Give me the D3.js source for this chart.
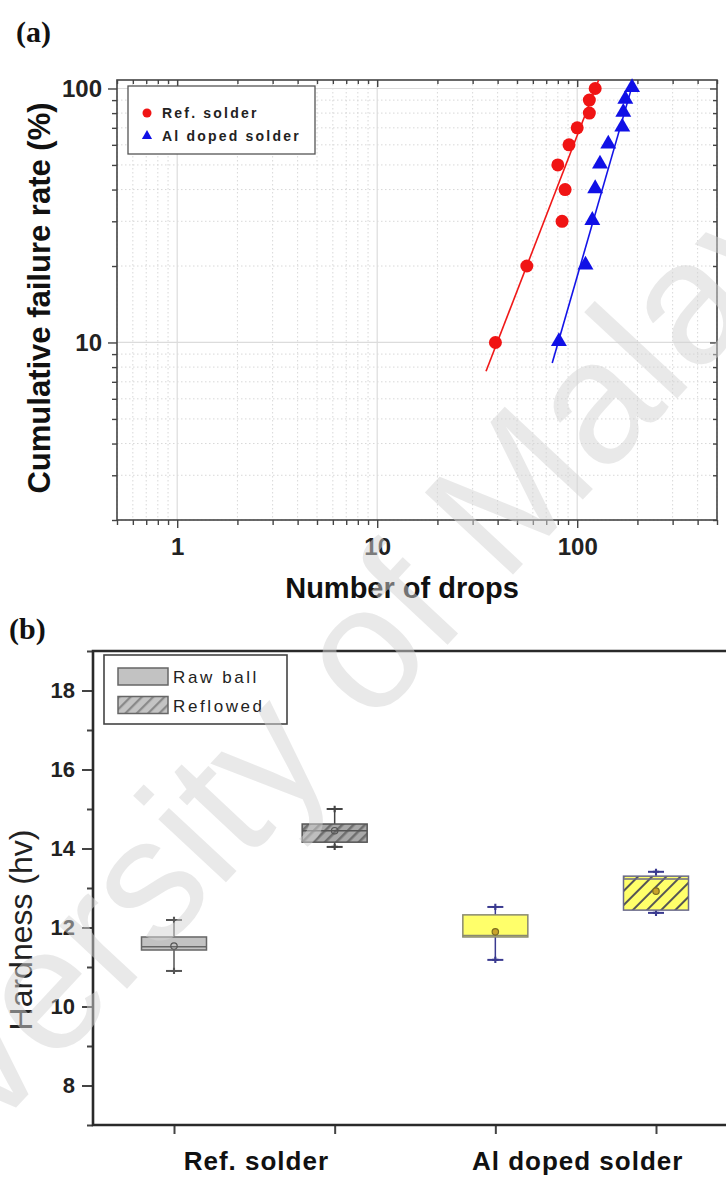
<!DOCTYPE html>
<html><head><meta charset="utf-8">
<script src="https://cdn.jsdelivr.net/npm/d3@7"></script>
<style>body{margin:0;background:#fff} svg{display:block}</style>
</head><body>
<svg id="c" width="726" height="1183"></svg>
<script>
// ---------- data: panel (a) ----------
const failureRate = [10, 20, 30, 40, 50, 60, 70, 80, 90, 100];
const refDrops = [39, 56, 84, 87, 80, 91, 100, 115, 115, 123];
const alDrops = [81, 110, 119, 123, 130, 143, 168, 170, 174, 188];
const refFitDrops = [35, 128];
const refFitRate = [7.7, 108];
const alFitDrops = [75, 190];
const alFitRate = [8.3, 105];
const seriesNames = ["Ref. solder", "Al doped solder"];
const xMajorTicks = [1, 10, 100];
const yMajorTicks = [10, 100];

// ---------- data: panel (b) ----------
const groups = ["Ref. solder", "Al doped solder"];
const conditions = ["Raw ball", "Reflowed"];
const boxMin = [10.9, 14.04, 11.18, 12.37];
const boxQ1 = [11.43, 14.16, 11.76, 12.44];
const boxMedian = [11.51, 14.45, 11.8, 13.23];
const boxQ3 = [11.76, 14.62, 12.32, 13.3];
const boxMax = [12.19, 15.0, 12.52, 13.41];
const boxMean = [11.53, 14.45, 11.89, 12.92];
const hardnessTicks = [8, 10, 12, 14, 16, 18];

const SANS = "'Liberation Sans', Arial, sans-serif";
const SERIF = "'Liberation Serif', 'Times New Roman', serif";

const svg = d3.select("#c");
svg.append("rect").attr("width", 726).attr("height", 1183).attr("fill", "#fff");

const defs = svg.append("defs");
function hatch(id, bg, line, gap, lw) {
  const p = defs.append("pattern").attr("id", id).attr("patternUnits", "userSpaceOnUse")
    .attr("width", gap).attr("height", gap).attr("patternTransform", "rotate(45)");
  p.append("rect").attr("width", gap).attr("height", gap).attr("fill", bg);
  p.append("line").attr("x1", 1).attr("y1", 0).attr("x2", 1).attr("y2", gap)
    .attr("stroke", line).attr("stroke-width", lw);
}
hatch("hGray", "#a8a8a8", "#6e6e6e", 8, 3);
hatch("hGrayLeg", "#c4c4c4", "#8a8a8a", 8, 2.5);
hatch("hYellow", "#ffff6a", "#555", 10, 2);

// ================= Panel (a) =================
const A = {l: 117, r: 717, t: 80, b: 520};
const xA = d3.scaleLog().domain([0.5, 500]).range([A.l, A.r]);
const yA = d3.scaleLog().domain([2, 108]).range([A.b, A.t]);

const xMinor = [], yMinor = [];
[0.1, 1, 10, 100].forEach(dec => {
  for (let k = 1; k < 10; k++) {
    const v = +(k * dec).toPrecision(3);
    if (v >= 0.5 && v <= 500 && !xMajorTicks.includes(v)) xMinor.push(v);
    if (v >= 2 && v <= 108 && !yMajorTicks.includes(v)) yMinor.push(v);
  }
});

const gA = svg.append("g");
// grid
const grid = gA.append("g");
grid.selectAll(".gxm").data(xMinor).join("line")
  .attr("x1", d => xA(d)).attr("x2", d => xA(d)).attr("y1", A.t).attr("y2", A.b)
  .attr("stroke", "#d8d8d8").attr("stroke-width", 1).attr("stroke-dasharray", "1.5,2.5");
grid.selectAll(".gym").data(yMinor).join("line")
  .attr("y1", d => yA(d)).attr("y2", d => yA(d)).attr("x1", A.l).attr("x2", A.r)
  .attr("stroke", "#d8d8d8").attr("stroke-width", 1).attr("stroke-dasharray", "1.5,2.5");
grid.selectAll(".gxM").data(xMajorTicks).join("line")
  .attr("x1", d => xA(d)).attr("x2", d => xA(d)).attr("y1", A.t).attr("y2", A.b)
  .attr("stroke", "#dcdcdc").attr("stroke-width", 1.2);
grid.selectAll(".gyM").data(yMajorTicks).join("line")
  .attr("y1", d => yA(d)).attr("y2", d => yA(d)).attr("x1", A.l).attr("x2", A.r)
  .attr("stroke", "#dcdcdc").attr("stroke-width", 1.2);

function styleAxis(g, size) {
  g.select(".domain").remove();
  g.selectAll("line").attr("stroke", "#444").attr("stroke-width", 1.4);
  g.selectAll("text").attr("font-family", SANS).attr("font-weight", "bold")
    .attr("font-size", size).attr("fill", "#222");
}
// bottom axis
gA.append("g").attr("transform", `translate(0,${A.b})`)
  .call(d3.axisBottom(xA).tickValues(xMinor).tickSize(5).tickFormat(""))
  .call(g => styleAxis(g, 0));
gA.append("g").attr("transform", `translate(0,${A.b})`)
  .call(d3.axisBottom(xA).tickValues(xMajorTicks).tickSize(8).tickPadding(10).tickFormat(d3.format("d")))
  .call(g => styleAxis(g, 24));
// top axis (inward)
gA.append("g").attr("transform", `translate(0,${A.t})`)
  .call(d3.axisTop(xA).tickValues(xMinor).tickSize(-4).tickFormat(""))
  .call(g => styleAxis(g, 0));
gA.append("g").attr("transform", `translate(0,${A.t})`)
  .call(d3.axisTop(xA).tickValues(xMajorTicks).tickSize(-7).tickFormat(""))
  .call(g => styleAxis(g, 0));
// left axis
gA.append("g").attr("transform", `translate(${A.l},0)`)
  .call(d3.axisLeft(yA).tickValues(yMinor).tickSize(5).tickFormat(""))
  .call(g => styleAxis(g, 0));
gA.append("g").attr("transform", `translate(${A.l},0)`)
  .call(d3.axisLeft(yA).tickValues(yMajorTicks).tickSize(9).tickPadding(6).tickFormat(d3.format("d")))
  .call(g => styleAxis(g, 24));
// right axis (inward)
gA.append("g").attr("transform", `translate(${A.r},0)`)
  .call(d3.axisRight(yA).tickValues(yMinor).tickSize(-4).tickFormat(""))
  .call(g => styleAxis(g, 0));
gA.append("g").attr("transform", `translate(${A.r},0)`)
  .call(d3.axisRight(yA).tickValues(yMajorTicks).tickSize(-7).tickFormat(""))
  .call(g => styleAxis(g, 0));
// frame
gA.append("rect").attr("x", A.l).attr("y", A.t).attr("width", A.r - A.l).attr("height", A.b - A.t)
  .attr("fill", "none").attr("stroke", "#444").attr("stroke-width", 1.6);

// fit lines
const lineA = d3.line().x(d => xA(d[0])).y(d => yA(d[1]));
gA.append("path").datum(d3.zip(refFitDrops, refFitRate)).attr("d", lineA)
  .attr("stroke", "#f01818").attr("stroke-width", 1.6).attr("fill", "none");
gA.append("path").datum(d3.zip(alFitDrops, alFitRate)).attr("d", lineA)
  .attr("stroke", "#1414e8").attr("stroke-width", 1.6).attr("fill", "none");
// points
gA.selectAll(".ref").data(d3.zip(refDrops, failureRate)).join("circle")
  .attr("cx", d => xA(d[0])).attr("cy", d => yA(d[1])).attr("r", 6.5).attr("fill", "#f01414");
const tri = d3.symbol(d3.symbolTriangle).size(110);
gA.selectAll(".al").data(d3.zip(alDrops, failureRate)).join("path")
  .attr("d", tri).attr("transform", d => `translate(${xA(d[0])},${yA(d[1]) - 1})`).attr("fill", "#1010e6");

// legend (a)
const legA = gA.append("g");
legA.append("rect").attr("x", 128).attr("y", 86).attr("width", 187).attr("height", 68)
  .attr("fill", "#fff").attr("stroke", "#555").attr("stroke-width", 1.3);
legA.append("circle").attr("cx", 147).attr("cy", 113).attr("r", 4.5).attr("fill", "#f01414");
legA.append("path").attr("d", d3.symbol(d3.symbolTriangle).size(45))
  .attr("transform", "translate(147,136)").attr("fill", "#1010e6");
legA.selectAll("text").data(seriesNames).join("text")
  .attr("x", 162).attr("y", (d, i) => 118 + i * 23).text(d => d)
  .attr("font-family", SANS).attr("font-weight", "bold").attr("font-size", 14)
  .attr("letter-spacing", 2.2).attr("fill", "#222");

// labels
svg.append("text").attr("x", 16).attr("y", 42).text("(a)")
  .attr("font-family", SERIF).attr("font-weight", "bold").attr("font-size", 30).attr("fill", "#111");
svg.append("text").attr("transform", "translate(50,298) rotate(-90)").attr("text-anchor", "middle")
  .text("Cumulative failure rate (%)")
  .attr("font-family", SANS).attr("font-weight", "bold").attr("font-size", 31).attr("fill", "#111");
svg.append("text").attr("x", 402).attr("y", 598).attr("text-anchor", "middle").text("Number of drops")
  .attr("font-family", SANS).attr("font-weight", "bold").attr("font-size", 29).attr("fill", "#111");

// ================= Panel (b) =================
const B = {l: 93, r: 726, t: 651, b: 1125};
const keys = [];
groups.forEach(g => conditions.forEach(c => keys.push(g + "|" + c)));
const xB = d3.scalePoint().domain(keys).range([174, 656]);
const yB = d3.scaleLinear().domain([7, 19]).range([B.b, B.t]);
const gB = svg.append("g");

// y axis
const yMinorB = d3.range(7, 19.5, 1).filter(v => !hardnessTicks.includes(v));
gB.append("g").attr("transform", `translate(${B.l},0)`)
  .call(d3.axisLeft(yB).tickValues(yMinorB).tickSize(6).tickFormat(""))
  .call(g => styleAxis(g, 0));
gB.append("g").attr("transform", `translate(${B.l},0)`)
  .call(d3.axisLeft(yB).tickValues(hardnessTicks).tickSize(11).tickPadding(7).tickFormat(d3.format("d")))
  .call(g => styleAxis(g, 22));
// x axis ticks
gB.append("g").attr("transform", `translate(0,${B.b})`)
  .call(d3.axisBottom(xB).tickSize(9).tickFormat(""))
  .call(g => styleAxis(g, 0));
gB.selectAll("g line").attr("stroke-width", 2);
// frame lines
gB.append("path").attr("d", `M${B.r},${B.t}H${B.l}V${B.b}H${B.r}`)
  .attr("fill", "none").attr("stroke", "#2a2a2a").attr("stroke-width", 2.6);

// boxes
const boxW = 65;
const boxFill = ["#c2c2c2", "url(#hGray)", "#ffff6a", "url(#hYellow)"];
const boxStroke = ["#666", "#555", "#8a8a70", "#6a6a8a"];
const whiskColor = ["#555", "#444", "#3a3a90", "#3a3a90"];
keys.forEach((k, i) => {
  const cx = xB(k);
  const g = gB.append("g");
  g.append("line").attr("x1", cx).attr("x2", cx).attr("y1", yB(boxMin[i])).attr("y2", yB(boxMax[i]))
    .attr("stroke", whiskColor[i]).attr("stroke-width", 1.5);
  [boxMin[i], boxMax[i]].forEach(v => {
    g.append("line").attr("x1", cx - 8).attr("x2", cx + 8).attr("y1", yB(v)).attr("y2", yB(v))
      .attr("stroke", whiskColor[i]).attr("stroke-width", 2);
    g.append("path").attr("d", d3.symbol(d3.symbolCross).size(22)).attr("transform", `translate(${cx},${yB(v)})`)
      .attr("fill", whiskColor[i]);
  });
  g.append("rect").attr("x", cx - boxW / 2).attr("width", boxW)
    .attr("y", yB(boxQ3[i])).attr("height", yB(boxQ1[i]) - yB(boxQ3[i]))
    .attr("fill", boxFill[i]).attr("stroke", boxStroke[i]).attr("stroke-width", 1.5);
  g.append("line").attr("x1", cx - boxW / 2).attr("x2", cx + boxW / 2)
    .attr("y1", yB(boxMedian[i])).attr("y2", yB(boxMedian[i]))
    .attr("stroke", boxStroke[i]).attr("stroke-width", 1.5);
  g.append("circle").attr("cx", cx).attr("cy", yB(boxMean[i])).attr("r", 3.2)
    .attr("fill", i < 2 ? "none" : "#c9a32a").attr("stroke", i < 2 ? "#555" : "#7a6a20").attr("stroke-width", 1.2);
});

// category labels
groups.forEach(gname => {
  const cx = (xB(gname + "|" + conditions[0]) + xB(gname + "|" + conditions[1])) / 2;
  gB.append("text").attr("x", cx + 2).attr("y", 1170).attr("text-anchor", "middle").text(gname)
    .attr("font-family", SANS).attr("font-weight", "bold").attr("font-size", 26)
    .attr("letter-spacing", 1).attr("fill", "#111");
});

// legend (b)
const legB = gB.append("g");
legB.append("rect").attr("x", 104).attr("y", 655).attr("width", 183).attr("height", 69)
  .attr("fill", "#fff").attr("stroke", "#444").attr("stroke-width", 1.6);
const legFill = ["#c2c2c2", "url(#hGrayLeg)"];
conditions.forEach((c, i) => {
  legB.append("rect").attr("x", 118).attr("y", 668 + i * 28.5).attr("width", 50).attr("height", 17)
    .attr("fill", legFill[i]).attr("stroke", "#666").attr("stroke-width", 1.5);
  legB.append("text").attr("x", 173).attr("y", 683 + i * 28.5).text(c)
    .attr("font-family", SANS).attr("font-size", 17).attr("letter-spacing", 2.6).attr("fill", "#222");
});

svg.append("text").attr("x", 9).attr("y", 639).text("(b)")
  .attr("font-family", SERIF).attr("font-weight", "bold").attr("font-size", 30).attr("fill", "#111");
svg.append("text").attr("transform", "translate(32,930) rotate(-90)").attr("text-anchor", "middle")
  .text("Hardness (hv)")
  .attr("font-family", SANS).attr("font-size", 32).attr("fill", "#222");

// watermark
svg.append("text").attr("transform", "translate(317,717) rotate(-47)")
  .attr("text-anchor", "middle").attr("dominant-baseline", "middle")
  .text("University of Malaya")
  .attr("font-family", SANS).attr("font-size", 175).attr("fill", "#d4d4d4").attr("opacity", 0.5);
</script>
</body></html>
